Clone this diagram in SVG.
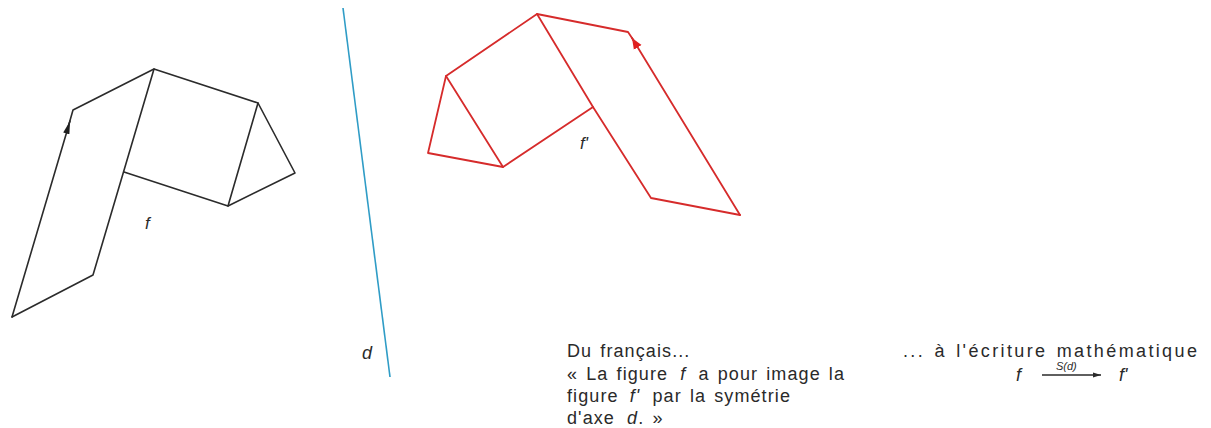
<svg xmlns="http://www.w3.org/2000/svg" width="1211" height="428" viewBox="0 0 1211 428">
<style>
  .blk { fill: none; stroke: #2b2b2b; stroke-width: 1.6; stroke-linejoin: round; stroke-linecap: round; }
  .red { fill: none; stroke: #d62b2b; stroke-width: 1.8; stroke-linejoin: round; stroke-linecap: round; }
  .axis { fill: none; stroke: #2f9cc6; stroke-width: 1.6; }
  .txt { font-family: "Liberation Sans", Arial, sans-serif; font-size: 18px; letter-spacing: 1.1px; word-spacing: 2px; fill: #2a2a2a; }
  .it { font-family: "Liberation Sans", Arial, sans-serif; font-style: italic; fill: #2a2a2a; }
</style>
<defs>
  <marker id="arrBlack" markerUnits="userSpaceOnUse" markerWidth="14" markerHeight="8" refX="13" refY="4" orient="auto">
    <path d="M0,0.8 L13,4 L0,7.2 z" fill="#1e1e1e"/>
  </marker>
  <marker id="arrRed" markerUnits="userSpaceOnUse" markerWidth="12" markerHeight="10" refX="11" refY="5" orient="auto">
    <path d="M0,0.5 L11,5 L0,9.5 z" fill="#e01f1f"/>
  </marker>
  <marker id="arrSmall" markerUnits="userSpaceOnUse" markerWidth="9" markerHeight="6" refX="8" refY="3" orient="auto">
    <path d="M0,0.5 L8,3 L0,5.5 z" fill="#2a2a2a"/>
  </marker>
</defs>
<rect width="1211" height="428" fill="#ffffff"/>

<g id="figure-f">
  <path class="blk" d="M12,317 L70,121" marker-end="url(#arrBlack)"/>
  <path class="blk" d="M69,124 L73,110 L154,69 L258,103 L295,173 L228,206 L124,172"/>
  <path class="blk" d="M154,69 L93,275 L12,317"/>
  <path class="blk" d="M258,103 L228,206"/>
  <text class="it" x="145" y="229" font-size="17">f</text>
</g>

<g id="axis-d">
  <line class="axis" x1="343" y1="8" x2="390" y2="377"/>
  <text class="it" x="362" y="359" font-size="18">d</text>
</g>

<g id="figure-fprime">
  <path class="red" d="M740,215 L632,38" marker-end="url(#arrRed)"/>
  <path class="red" d="M634,41 L628,32 L537,14 L446,76 L428,153 L503,167 L593,107 L651,198 L740,215"/>
  <path class="red" d="M537,14 L593,107"/>
  <path class="red" d="M446,76 L503,167"/>
  <text class="it" x="580" y="149" font-size="17">f'</text>
</g>

<g id="text-francais">
  <text class="txt" x="567" y="357">Du français...</text>
  <text class="txt" x="567" y="380">« La figure <tspan class="it" dx="4">f</tspan> <tspan dx="4">a pour image la</tspan></text>
  <text class="txt" x="567" y="402">figure <tspan class="it" dx="3">f'</tspan> <tspan dx="4">par la symétrie</tspan></text>
  <text class="txt" x="567" y="424">d'axe <tspan class="it" dx="4">d</tspan>. »</text>
</g>

<g id="text-math">
  <text class="txt" x="903" y="357" textLength="295" lengthAdjust="spacing">... à l'écriture mathématique</text>
  <text class="it" x="1016" y="381" font-size="18">f</text>
  <text class="it" x="1056" y="370" font-size="11">S(d)</text>
  <line x1="1042" y1="375" x2="1101" y2="375" stroke="#2a2a2a" stroke-width="1.4" marker-end="url(#arrSmall)"/>
  <text class="it" x="1119" y="381" font-size="18">f'</text>
</g>
</svg>
